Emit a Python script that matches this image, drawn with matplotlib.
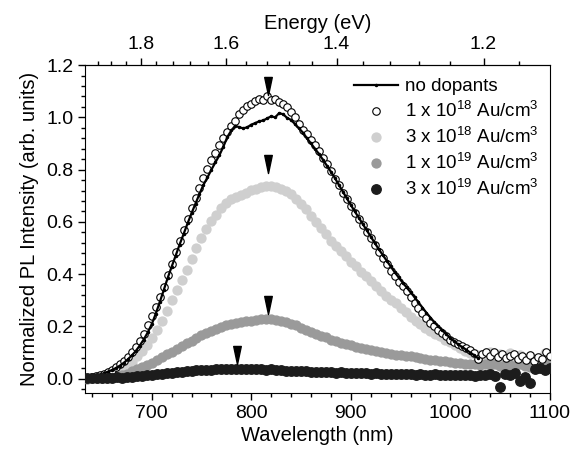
import numpy as np
import matplotlib
matplotlib.use("Agg")
import matplotlib.pyplot as plt
from matplotlib.ticker import MultipleLocator, FixedLocator, FormatStrFormatter
from matplotlib.path import Path

plt.rcParams['font.family'] = ['Liberation Sans', 'DejaVu Sans']
plt.rcParams['mathtext.fontset'] = 'custom'
plt.rcParams['mathtext.rm'] = 'Liberation Sans'
plt.rcParams['mathtext.it'] = 'Liberation Sans:italic'

# PL spectra, normalized (wavelength grids: start nm, step nm)
undoped_start, undoped_step = 636, 4
undoped = [0.004, 0.008, 0.012, 0.016, 0.021, 0.027, 0.033, 0.041, 0.050, 0.061,
           0.074, 0.089, 0.106, 0.127, 0.150, 0.177, 0.208, 0.248, 0.292, 0.338,
           0.385, 0.428, 0.470, 0.513, 0.553, 0.594, 0.633, 0.670, 0.707, 0.742,
           0.770, 0.800, 0.828, 0.855, 0.888, 0.925, 0.950, 0.968, 0.962, 0.958,
           0.962, 0.972, 0.978, 0.985, 0.988, 0.996, 1.004, 1.000, 1.016, 1.012,
           0.998, 0.990, 0.974, 0.958, 0.941, 0.920, 0.900, 0.880, 0.860, 0.838,
           0.815, 0.792, 0.768, 0.742, 0.716, 0.690, 0.665, 0.640, 0.616, 0.592,
           0.568, 0.544, 0.520, 0.496, 0.474, 0.452, 0.430, 0.408, 0.388, 0.368,
           0.350, 0.331, 0.312, 0.292, 0.272, 0.252, 0.234, 0.216, 0.200, 0.185,
           0.170, 0.156, 0.143, 0.131, 0.121, 0.111, 0.100, 0.090, 0.078]

au_1e18_start, au_1e18_step = 636, 4
au_1e18 = [0.004, 0.006, 0.010, 0.014, 0.020, 0.027, 0.034, 0.044, 0.056, 0.069,
           0.085, 0.102, 0.121, 0.145, 0.172, 0.204, 0.240, 0.276, 0.312, 0.352,
           0.396, 0.440, 0.484, 0.528, 0.570, 0.612, 0.652, 0.690, 0.730, 0.768,
           0.802, 0.836, 0.864, 0.893, 0.920, 0.944, 0.966, 0.985, 1.012, 1.030,
           1.042, 1.050, 1.062, 1.070, 1.068, 1.080, 1.066, 1.072, 1.058, 1.050,
           1.040, 1.020, 1.002, 0.975, 0.952, 0.938, 0.915, 0.895, 0.870, 0.845,
           0.820, 0.794, 0.765, 0.740, 0.712, 0.688, 0.660, 0.634, 0.612, 0.590,
           0.562, 0.538, 0.512, 0.484, 0.462, 0.438, 0.412, 0.392, 0.370, 0.356,
           0.334, 0.312, 0.290, 0.272, 0.250, 0.232, 0.214, 0.200, 0.186, 0.175,
           0.162, 0.150, 0.140, 0.132, 0.124, 0.118, 0.110, 0.100, 0.076, 0.096,
           0.104, 0.088, 0.104, 0.082, 0.094, 0.078, 0.086, 0.094, 0.076, 0.086,
           0.072, 0.090, 0.066, 0.082, 0.076, 0.104, 0.088]

au_3e18_start, au_3e18_step = 635, 5
au_3e18 = [0.002, 0.004, 0.006, 0.009, 0.013, 0.018, 0.025, 0.034, 0.046, 0.064,
           0.086, 0.106, 0.130, 0.154, 0.186, 0.222, 0.260, 0.300, 0.338, 0.378,
           0.416, 0.458, 0.500, 0.540, 0.572, 0.602, 0.626, 0.652, 0.672, 0.686,
           0.696, 0.704, 0.712, 0.722, 0.726, 0.734, 0.738, 0.736, 0.734, 0.726,
           0.718, 0.706, 0.688, 0.668, 0.648, 0.624, 0.600, 0.578, 0.552, 0.528,
           0.508, 0.488, 0.468, 0.448, 0.430, 0.410, 0.392, 0.374, 0.356, 0.336,
           0.318, 0.302, 0.288, 0.272, 0.256, 0.238, 0.222, 0.208, 0.196, 0.184,
           0.172, 0.162, 0.150, 0.140, 0.128, 0.118, 0.106, 0.100, 0.096, 0.092,
           0.090, 0.104, 0.084, 0.096, 0.080, 0.100, 0.078, 0.090, 0.074, 0.086,
           0.070, 0.080, 0.098, 0.084]

au_1e19_start, au_1e19_step = 635, 5
au_1e19 = [0.000, 0.001, 0.002, 0.003, 0.005, 0.007, 0.010, 0.014, 0.020, 0.028,
           0.036, 0.044, 0.052, 0.060, 0.071, 0.082, 0.094, 0.104, 0.114, 0.126,
           0.136, 0.146, 0.156, 0.166, 0.176, 0.184, 0.192, 0.198, 0.204, 0.210,
           0.214, 0.216, 0.220, 0.222, 0.226, 0.228, 0.230, 0.228, 0.226, 0.222,
           0.216, 0.210, 0.204, 0.196, 0.188, 0.180, 0.172, 0.164, 0.158, 0.150,
           0.144, 0.138, 0.132, 0.128, 0.122, 0.118, 0.114, 0.110, 0.106, 0.102,
           0.098, 0.096, 0.092, 0.090, 0.088, 0.086, 0.082, 0.078, 0.076, 0.072,
           0.070, 0.068, 0.066, 0.064, 0.062, 0.060, 0.058, 0.057, 0.055, 0.054,
           0.056, 0.052, 0.055, 0.050, 0.054, 0.052, 0.048, 0.055, 0.050, 0.046,
           0.056, 0.052, 0.060, 0.054]

au_3e19_start, au_3e19_step = 635, 5
au_3e19 = [0.002, 0.001, 0.002, 0.003, 0.002, 0.004, 0.005, 0.004, 0.006, 0.008,
           0.010, 0.012, 0.013, 0.015, 0.017, 0.019, 0.021, 0.023, 0.025, 0.027,
           0.029, 0.030, 0.032, 0.033, 0.034, 0.035, 0.036, 0.037, 0.037, 0.038,
           0.038, 0.039, 0.038, 0.037, 0.038, 0.036, 0.035, 0.036, 0.034, 0.032,
           0.031, 0.030, 0.029, 0.028, 0.028, 0.027, 0.026, 0.025, 0.026, 0.024,
           0.023, 0.024, 0.022, 0.023, 0.021, 0.022, 0.021, 0.020, 0.021, 0.019,
           0.020, 0.018, 0.019, 0.018, 0.017, 0.019, 0.016, 0.017, 0.016, 0.015,
           0.017, 0.014, 0.016, 0.015, 0.013, 0.016, 0.014, 0.015, 0.012, 0.016,
           0.013, 0.018, 0.010, -0.030, 0.020, 0.014, 0.022, -0.008, 0.006, -0.016,
           0.036, 0.040, 0.034, 0.042]

# peak positions marked with arrows
peak_wl = [817, 817, 817, 786]
peak_y = [1.12, 0.823, 0.281, 0.092]

energy_ticks = [1.2, 1.4, 1.6, 1.8]
energy_minor = [1.16, 1.24, 1.28, 1.32, 1.36, 1.44, 1.48, 1.52, 1.56,
                1.64, 1.68, 1.72, 1.76, 1.84, 1.88, 1.92]

labels = ['no dopants',
          r'1 x 10$^{18}$ Au/cm$^{3}$',
          r'3 x 10$^{18}$ Au/cm$^{3}$',
          r'1 x 10$^{19}$ Au/cm$^{3}$',
          r'3 x 10$^{19}$ Au/cm$^{3}$']


def grid(start, step, vals):
    return start + step * np.arange(len(vals))


fig = plt.figure(figsize=(5.85, 4.55), dpi=100)
ax = fig.add_axes([0.1453, 0.136, 0.7947, 0.721])

ms = 6.4
ax.plot(grid(au_3e18_start, au_3e18_step, au_3e18), au_3e18, ls='none', marker='o',
        ms=ms, mfc='#cfcfcf', mec='#cfcfcf', label=labels[2], zorder=2)
ax.plot(grid(au_1e19_start, au_1e19_step, au_1e19), au_1e19, ls='none', marker='o',
        ms=ms, mfc='#9a9a9a', mec='#9a9a9a', label=labels[3], zorder=3)
ax.plot(grid(au_1e18_start, au_1e18_step, au_1e18), au_1e18, ls='none', marker='o',
        ms=5.4, mfc='white', mec='black', mew=0.8, label=labels[1], zorder=4)
ax.plot(grid(undoped_start, undoped_step, undoped), undoped, color='black', lw=1.6,
        marker='.', ms=3, label=labels[0], zorder=5)
ax.plot(grid(au_3e19_start, au_3e19_step, au_3e19), au_3e19, ls='none', marker='o',
        ms=6.8, mfc='#1c1c1c', mec='#1c1c1c', label=labels[4], zorder=6)

# narrow down-pointing arrowheads
arrow = Path([(-0.42, 1.0), (0.42, 1.0), (0.0, -1.0), (-0.42, 1.0)],
             [Path.MOVETO, Path.LINETO, Path.LINETO, Path.CLOSEPOLY])
ax.plot(peak_wl, peak_y, ls='none', marker=arrow, ms=13, color='black', zorder=7)

ax.set_xlim(633, 1100)
ax.set_ylim(-0.055, 1.2)
ax.xaxis.set_major_locator(MultipleLocator(100))
ax.xaxis.set_minor_locator(MultipleLocator(20))
ax.yaxis.set_major_locator(MultipleLocator(0.2))
ax.yaxis.set_minor_locator(MultipleLocator(0.04))
ax.yaxis.set_major_formatter(FormatStrFormatter('%.1f'))
ax.tick_params(which='both', direction='out', top=False, right=False, labelsize=14, width=1)
ax.tick_params(which='major', length=5)
ax.tick_params(which='minor', length=3)
ax.set_xlabel('Wavelength (nm)', fontsize=14.5, labelpad=3)
ax.set_ylabel('Normalized PL Intensity (arb. units)', fontsize=14.5, labelpad=5)

top = ax.secondary_xaxis('top', functions=(lambda x: 1240.0 / x, lambda e: 1240.0 / e))
top.xaxis.set_major_locator(FixedLocator(energy_ticks))
top.xaxis.set_minor_locator(FixedLocator(energy_minor))
top.xaxis.set_major_formatter(FormatStrFormatter('%.1f'))
top.tick_params(which='both', direction='out', labelsize=14, width=1)
top.tick_params(which='major', length=5)
top.tick_params(which='minor', length=3)
top.set_xlabel('Energy (eV)', fontsize=14.5, labelpad=5)

handles, labs = ax.get_legend_handles_labels()
order = [labs.index(l) for l in labels]
ax.legend([handles[i] for i in order], [labs[i] for i in order], loc='upper right',
          bbox_to_anchor=(1.0, 0.995), frameon=False, fontsize=13.5, numpoints=1,
          handlelength=2.3, handletextpad=0.4, labelspacing=0.32, borderaxespad=0.2)

fig.savefig('out.png', dpi=100)
